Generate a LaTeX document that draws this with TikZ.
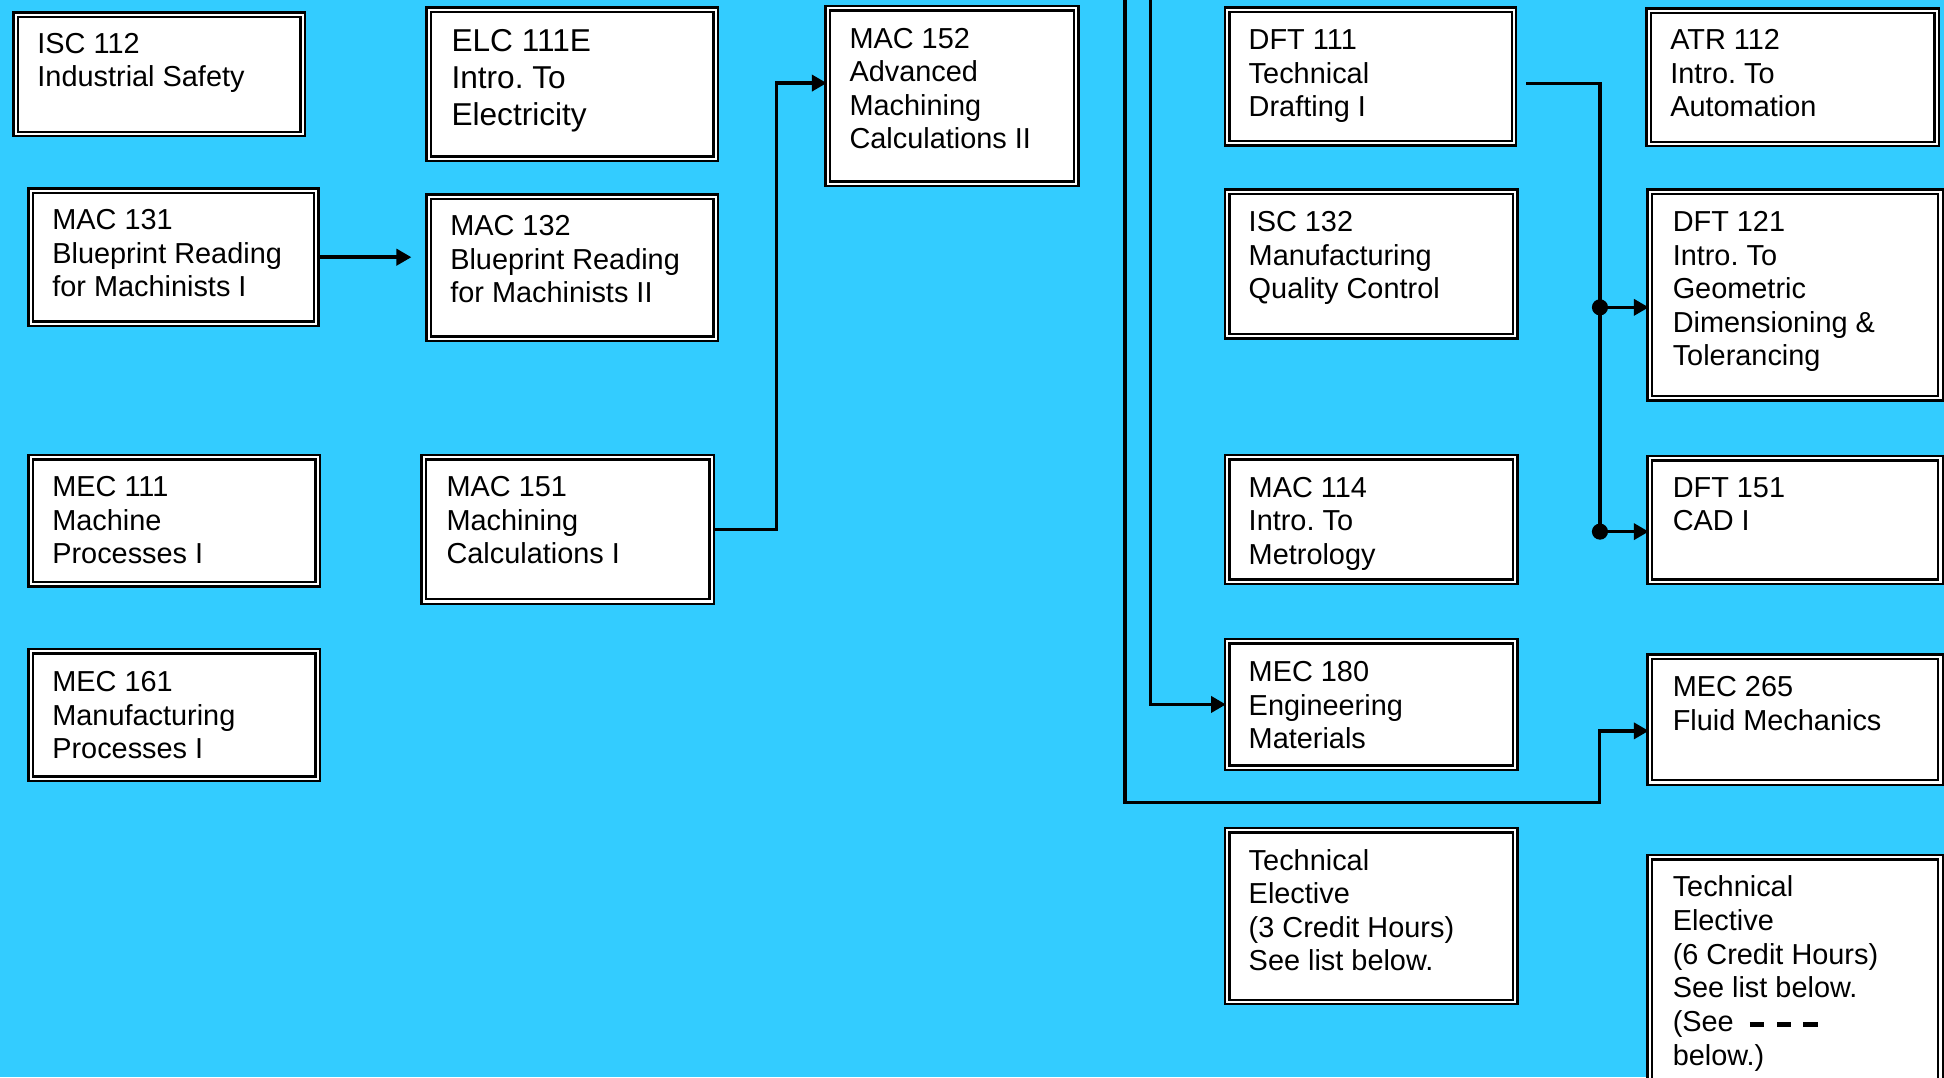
\documentclass[tikz,border=0pt]{standalone}
\usepackage{fontspec}
\setmainfont{Liberation Sans}
\frenchspacing
\usetikzlibrary{arrows.meta}
\definecolor{bgcyan}{RGB}{51,204,255}
\newcommand\cbox[5]{\node[cbx, anchor=north west, minimum width={#4-#2-5.6}, minimum height={#5-#3-5.6}] (#1) at ({#2+2.8},{#3+2.8}) {};}
\newcommand\ctext[4]{\node[txt, anchor=base west] (#1) at (#2,#3) {\parbox[t]{230pt}{#4}};}
\tikzset{
  cbx/.style={draw=black, line width=1.9pt, double=white, double distance=1.7pt, fill=white, inner sep=0pt},
  txt/.style={inner sep=0pt, font=\fontsize{23.3}{27}\selectfont},
  bigtxt/.style={inner sep=0pt, font=\fontsize{25.5}{29.6}\selectfont},
  conn/.style={line width=2.8pt, black},
  arr/.style={-{Triangle[length=12pt,width=13pt]}},
  dot/.style={circle, fill=black, inner sep=0pt, minimum size=13pt}
}
\begin{document}
\begin{tikzpicture}[x=1pt,y=-1pt]
\useasboundingbox (0,0) rectangle (1568,869);
\clip (0,0) rectangle (1568,869);
\fill[bgcyan] (0,0) rectangle (1568,869);

% boxes
\cbox{isc112}{9}{8}{246}{110}
\cbox{elc111}{342}{4}{579}{130}
\cbox{mac152}{664}{3}{870}{150}
\cbox{dft111}{986}{4}{1223}{117.5}
\cbox{atr112}{1326}{5}{1564}{118}
\cbox{mac131}{21}{150}{257}{263}
\cbox{mac132}{342}{155}{579}{275}
\cbox{isc132}{986}{151}{1224}{273}
\cbox{dft121}{1327}{151}{1567}{323}
\cbox{mec111}{21}{365}{258}{473}
\cbox{mac151}{338}{365}{576}{487}
\cbox{mac114}{986}{365}{1224}{471}
\cbox{dft151}{1327}{366}{1567}{471}
\cbox{mec161}{21}{521.5}{258}{630}
\cbox{mec180}{986}{513.5}{1224}{621}
\cbox{mec265}{1327}{526}{1567}{633}
\cbox{tech3}{986}{666}{1224}{810}
\cbox{tech6}{1327}{687.6}{1567}{900}

% texts
\ctext{isc112t}{30}{43}{ISC 112\\Industrial Safety}
\node[bigtxt, anchor=base west] (elc111t) at (364,41.7) {\parbox[t]{230pt}{ELC 111E\\Intro. To\\Electricity}};
\ctext{mac152t}{685}{39}{MAC 152\\Advanced\\Machining\\Calculations II}
\ctext{dft111t}{1007}{40}{DFT 111\\Technical\\Drafting I}
\ctext{atr112t}{1347}{40}{ATR 112\\Intro. To\\Automation}
\ctext{mac131t}{42}{185.5}{MAC 131\\Blueprint Reading\\for Machinists I}
\ctext{mac132t}{363}{190}{MAC 132\\Blueprint Reading\\for Machinists II}
\ctext{isc132t}{1007}{187}{ISC 132\\Manufacturing\\Quality Control}
\ctext{dft121t}{1349}{187}{DFT 121\\Intro. To\\Geometric\\Dimensioning \&\\Tolerancing}
\ctext{mec111t}{42}{400.5}{MEC 111\\Machine\\Processes I}
\ctext{mac151t}{360}{400.5}{MAC 151\\Machining\\Calculations I}
\ctext{mac114t}{1007}{401}{MAC 114\\Intro. To\\Metrology}
\ctext{dft151t}{1349}{401}{DFT 151\\CAD I}
\ctext{mec161t}{42}{558}{MEC 161\\Manufacturing\\Processes I}
\ctext{mec180t}{1007}{550}{MEC 180\\Engineering\\Materials}
\ctext{mec265t}{1349}{562}{MEC 265\\Fluid Mechanics}
\ctext{tech3t}{1007}{702}{Technical\\Elective\\(3 Credit Hours)\\See list below.}
\node[inner sep=0pt, font=\fontsize{23.3}{27.3}\selectfont, anchor=base west] (tech6t) at (1349,723) {\parbox[t]{230pt}{Technical\\Elective\\(6 Credit Hours)\\See list below.\\(See\hspace{13pt}\rule[3.6pt]{11pt}{4.2pt}\hspace{11pt}\rule[3.6pt]{11pt}{4.2pt}\hspace{10pt}\rule[3.6pt]{12pt}{4.2pt}\\below.)}};

% junction coordinates
\coordinate (j1) at (626.3,67);
\coordinate (topA) at (907.5,-5);
\coordinate (topB) at (928,-5);
\coordinate (j2) at (1290,647.3);
\coordinate (j3) at (1290,589.5);
\coordinate (b1) at (1290.5,67.2);
\coordinate (b2) at (1290.5,247.9);
\coordinate (b3) at (1290.5,428.8);

% connectors
\draw[conn,arr,shorten >=13pt] (mac131.east) -- (mac131.east -| mac132.west);
\draw[conn,arr] (mac151.east) -| (j1) -- (mac152.west |- j1);
\draw[conn,arr] (topB) |- (mec180.west);
\draw[conn,arr] (topA) |- (j2) -- (j3) -- (mec265.west |- j3);
\draw[conn] ([xshift=9pt]dft111.east |- b1) -- (b1) -- (b3);
\draw[conn,arr] (b2) -- (dft121.west |- b2);
\draw[conn,arr] (b3) -- (dft151.west |- b3);
\node[dot] (d1) at (b2) {};
\node[dot] (d2) at (b3) {};
\end{tikzpicture}
\end{document}
